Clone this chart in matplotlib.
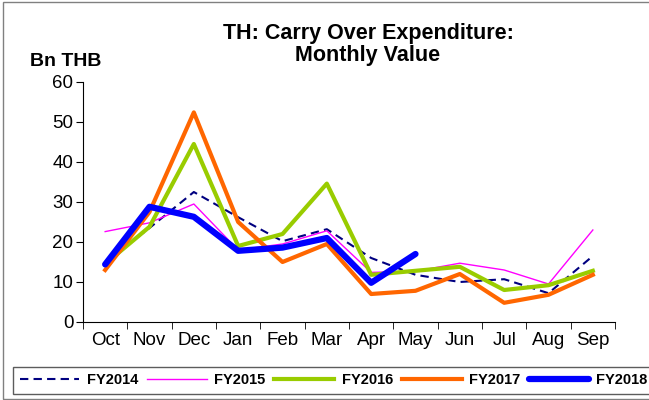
import matplotlib
matplotlib.use("Agg")
import matplotlib.pyplot as plt
from matplotlib.patches import Rectangle

plt.rcParams['font.family'] = ['Liberation Sans', 'DejaVu Sans']

months = ["Oct", "Nov", "Dec", "Jan", "Feb", "Mar", "Apr", "May", "Jun", "Jul", "Aug", "Sep"]
fy2014 = [15.0, 23.5, 32.5, 26.2, 20.2, 23.2, 16.0, 11.8, 10.0, 10.7, 7.2, 16.5]
fy2015 = [22.6, 24.8, 29.5, 18.0, 19.5, 22.8, 12.4, 12.7, 14.7, 13.0, 9.5, 23.0]
fy2016 = [14.5, 23.8, 44.5, 19.0, 22.0, 34.6, 11.8, 12.8, 13.8, 8.0, 9.2, 12.8]
fy2017 = [13.0, 27.5, 52.4, 25.0, 15.0, 19.5, 7.0, 7.8, 12.0, 4.8, 6.8, 11.8]
fy2018 = [14.4, 28.8, 26.3, 17.8, 18.6, 21.0, 9.8, 17.0]

fig = plt.figure(figsize=(6.49, 4.00), dpi=100)
ax = fig.add_axes([83/649, 1 - 322/400, (615-83)/649, (322-82)/400])

x = list(range(len(months)))
ax.plot(x, fy2014, color="#000080", lw=1.5, ls=(0, (4, 2.5)), label="FY2014")
ax.plot(x, fy2015, color="#FF00FF", lw=1.0, label="FY2015")
ax.plot(x, fy2016, color="#99CC00", lw=3.0, label="FY2016")
ax.plot(x, fy2017, color="#FF6600", lw=3.0, label="FY2017")
ax.plot(x[:len(fy2018)], fy2018, color="#0000FF", lw=4.5, solid_capstyle="round", label="FY2018")

ax.set_xlim(-0.5, 11.5)
ax.set_ylim(0, 60)
ax.set_yticks(range(0, 61, 10))
ax.set_xticks(x)
ax.set_xticklabels(months)
ax.set_xticks([i + 0.5 for i in range(-1, 12)], minor=True)
ax.tick_params(axis="x", which="major", length=0, labelsize=13.5, pad=7)
ax.tick_params(axis="x", which="minor", length=5, direction="out")
ax.tick_params(axis="y", length=5, direction="out", labelsize=13.5, pad=2)
for s in ["top", "right"]:
    ax.spines[s].set_visible(False)

fig.text(368/649, 1 - 33/400, "TH: Carry Over Expenditure:", ha="center",
         va="center", fontsize=15.5, fontweight="bold")
fig.text(368/649, 1 - 55/400, "Monthly Value", ha="center",
         va="center", fontsize=15.5, fontweight="bold")
fig.text(30/649, 1 - 62/400, "Bn THB", ha="left", va="center", fontsize=14, fontweight="bold")

leg = fig.legend(loc="lower left", bbox_to_anchor=(13/649, 6/400), ncol=5, frameon=True,
                 fancybox=False, edgecolor="#333333", handlelength=4.1, columnspacing=0.62,
                 handletextpad=0.5, borderpad=0.45, borderaxespad=0,
                 prop={"weight": "bold", "size": 10.5})
leg.get_frame().set_linewidth(1.0)

fig.patches.append(Rectangle((3/649, 0.002), 1, 0.993, transform=fig.transFigure,
                             fill=False, edgecolor="#808080", lw=1))

fig.savefig("out.png", dpi=100)
